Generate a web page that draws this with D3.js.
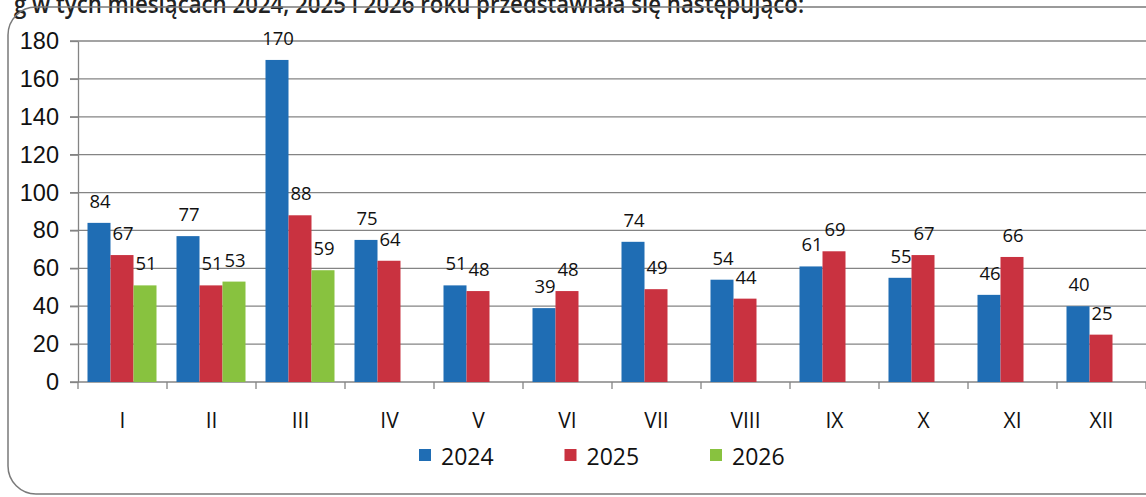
<!DOCTYPE html>
<html>
<head>
<meta charset="utf-8">
<script src="https://cdn.jsdelivr.net/npm/d3@7"></script>
<style>
  body { margin: 0; background: #fff; }
  svg { display: block; font-family: "Open Sans", sans-serif; }
  .grid line { stroke: #848484; stroke-width: 1.3; }
  .axis path, .axis line { stroke: #848484; stroke-width: 1.3; }
  .axis text { fill: #111; }
</style>
</head>
<body>
<svg id="chart" width="1146" height="497"></svg>
<script>
// ---- data ----
const months = ['I', 'II', 'III', 'IV', 'V', 'VI', 'VII', 'VIII', 'IX', 'X', 'XI', 'XII'];
const series = ['2024', '2025', '2026'];
const colors = ['#1f6db4', '#c93240', '#88c23f'];
const values2024 = [84, 77, 170, 75, 51, 39, 74, 54, 61, 55, 46, 40];
const values2025 = [67, 51, 88, 64, 48, 48, 49, 44, 69, 67, 66, 25];
const values2026 = [51, 53, 59, null, null, null, null, null, null, null, null, null];
const yTicks = [0, 20, 40, 60, 80, 100, 120, 140, 160, 180];
const caption = 'g w tych miesiącach 2024, 2025 i 2026 roku przedstawiała się następująco:';

const allValues = [values2024, values2025, values2026];

const svg = d3.select('#chart');

// caption line, cut off at the top like in the scan
svg.append('text')
  .attr('x', 14)
  .attr('y', 13)
  .attr('font-size', 25)
  .attr('font-weight', 600)
  .attr('fill', '#222')
  .attr('textLength', 790)
  .attr('lengthAdjust', 'spacingAndGlyphs')
  .text(caption);

// rounded frame
svg.append('rect')
  .attr('x', 8)
  .attr('y', 7)
  .attr('width', 1260)
  .attr('height', 487)
  .attr('rx', 28)
  .attr('fill', 'none')
  .attr('stroke', '#7a7a7a')
  .attr('stroke-width', 1.5);

// ---- scales ----
const plot = { left: 78, right: 1146, top: 41, bottom: 382 };

const x = d3.scaleBand()
  .domain(months)
  .range([plot.left, plot.right])
  .padding(0);

const inner = d3.scaleBand()
  .domain(series)
  .range([9.5, x.bandwidth() - 10.5])
  .padding(0);

const y = d3.scaleLinear()
  .domain([0, 180])
  .range([plot.bottom, plot.top]);

// gridlines (with short ticks left of the axis)
svg.append('g')
  .attr('class', 'grid')
  .selectAll('line')
  .data(yTicks.filter(d => d > 0))
  .join('line')
  .attr('x1', plot.left - 8)
  .attr('x2', plot.right)
  .attr('y1', d => y(d))
  .attr('y2', d => y(d));

// y axis
const yAxis = svg.append('g')
  .attr('class', 'axis')
  .attr('transform', `translate(${plot.left},0)`)
  .call(d3.axisLeft(y).tickValues(yTicks).tickSize(8).tickSizeOuter(0).tickPadding(11));
yAxis.selectAll('text').attr('font-size', 23.5);

// x axis: ticks on category boundaries
const xAxis = svg.append('g')
  .attr('class', 'axis')
  .attr('transform', `translate(0,${plot.bottom})`);
xAxis.append('line')
  .attr('x1', plot.left - 8)
  .attr('x2', plot.right)
  .attr('y1', 0)
  .attr('y2', 0);
xAxis.selectAll('.tick-mark')
  .data(months.concat(['end']))
  .join('line')
  .attr('class', 'tick-mark')
  .attr('x1', (d, i) => plot.left + i * x.step())
  .attr('x2', (d, i) => plot.left + i * x.step())
  .attr('y1', 0)
  .attr('y2', 7);
xAxis.selectAll('text')
  .data(months)
  .join('text')
  .attr('x', d => x(d) + x.bandwidth() / 2)
  .attr('y', 46)
  .attr('text-anchor', 'middle')
  .attr('font-size', 21)
  .text(d => d);

// ---- bars ----
const barData = [];
series.forEach((s, si) => {
  allValues[si].forEach((v, mi) => {
    if (v == null) return;
    barData.push({ month: months[mi], series: s, value: v, color: colors[si] });
  });
});

svg.append('g')
  .selectAll('rect')
  .data(barData)
  .join('rect')
  .attr('x', d => x(d.month) + inner(d.series))
  .attr('y', d => y(d.value))
  .attr('width', inner.bandwidth())
  .attr('height', d => y(0) - y(d.value))
  .attr('fill', d => d.color);

// data labels
svg.append('g')
  .selectAll('text')
  .data(barData)
  .join('text')
  .attr('x', d => x(d.month) + inner(d.series) + inner.bandwidth() / 2 + 1)
  .attr('y', d => y(d.value) - 15)
  .attr('text-anchor', 'middle')
  .attr('font-size', 18.5)
  .attr('fill', '#111')
  .text(d => d.value);

// ---- legend ----
const legend = svg.append('g')
  .selectAll('g')
  .data(series)
  .join('g')
  .attr('transform', (d, i) => `translate(${419 + i * 145.5},449)`);

legend.append('rect')
  .attr('width', 12)
  .attr('height', 12)
  .attr('fill', (d, i) => colors[i]);

legend.append('text')
  .attr('x', 22)
  .attr('y', 16)
  .attr('font-size', 23)
  .attr('fill', '#111')
  .text(d => d);
</script>
</body>
</html>
